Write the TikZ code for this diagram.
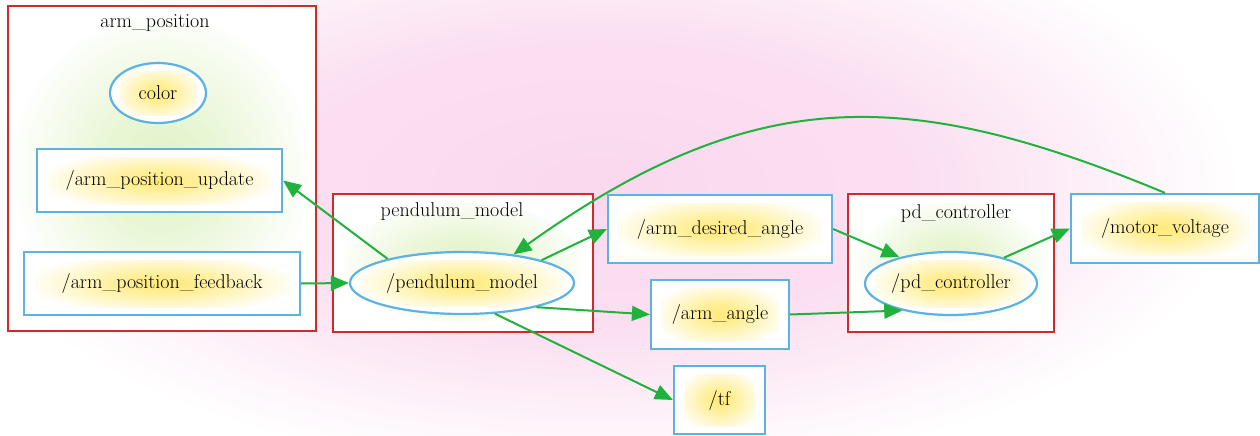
\documentclass[tikz,border=0pt]{standalone}
\usetikzlibrary{shapes.geometric,arrows.meta}

\definecolor{clusterred}{RGB}{208,42,42}
\definecolor{nodeblue}{RGB}{92,178,226}
\definecolor{edgegreen}{RGB}{32,178,60}
\definecolor{glowyellow}{RGB}{255,234,120}
\definecolor{glowgreen}{RGB}{224,243,198}
\definecolor{glowpink}{RGB}{250,216,238}

% soft radial glows, fading to white at the edge of the shaded path
\pgfdeclareradialshading{yglow}{\pgfpoint{0bp}{0bp}}{color(0bp)=(glowyellow); color(8bp)=(glowyellow!75!white); color(25bp)=(white); color(50bp)=(white)}
\pgfdeclareradialshading{gglow}{\pgfpoint{0bp}{0bp}}{color(0bp)=(glowgreen); color(10bp)=(glowgreen!70!white); color(25bp)=(white); color(50bp)=(white)}
\pgfdeclareradialshading{pglow}{\pgfpoint{0bp}{0bp}}{color(0bp)=(glowpink); color(13bp)=(glowpink!80!white); color(25bp)=(white); color(50bp)=(white)}

\tikzset{
  glowing/.style={path picture={\shade[shading=yglow]
      ([xshift=10pt,yshift=8pt]path picture bounding box.south west) rectangle
      ([xshift=-10pt,yshift=-8pt]path picture bounding box.north east);}},
  topicbox/.style={rectangle, draw=nodeblue, line width=2.2pt, fill=white, inner sep=0pt, glowing},
  nodeoval/.style={ellipse, draw=nodeblue, line width=2.2pt, fill=white, inner sep=0pt, glowing},
  cluster/.style={rectangle, draw=clusterred, line width=2.4pt, fill=white, inner sep=0pt},
  clusterglow/.style n args={4}{path picture={\shade[shading=gglow, xshift=#1, yshift=#2]
      (path picture bounding box.center) ellipse [x radius=#3, y radius=#4];}},
  edge/.style={draw=edgegreen, line width=2pt, -{Triangle[length=18pt,width=15pt]}},
}

\begin{document}
\begin{tikzpicture}[x=1pt, y=-1pt, font=\fontsize{20}{24}\selectfont]
\useasboundingbox (0,0) rectangle (1260,436);
\fill[white] (0,0) rectangle (1260,436);
\shade[shading=pglow] (600,185) ellipse [x radius=640pt, y radius=290pt];

% clusters
\node[cluster, minimum width=308pt, minimum height=325pt,
      clusterglow={8pt}{-45pt}{150pt}{150pt}] (cArm) at (162,168.5) {};
\node[cluster, minimum width=260pt, minimum height=138pt,
      clusterglow={-3pt}{10pt}{120pt}{60pt}] (cPend) at (463,263) {};
\node[cluster, minimum width=206pt, minimum height=138pt,
      clusterglow={0pt}{8pt}{95pt}{60pt}] (cPd) at (951,263) {};
\node (lArm) at (155,23) {arm\_position};
\node (lPend) at (452,212) {pendulum\_model};
\node (lPd) at (956,214) {pd\_controller};

% nodes and topics
\node[nodeoval, minimum width=96pt, minimum height=60pt] (color) at (158,93) {color};
\node[topicbox, minimum width=245pt, minimum height=63pt] (apu) at (159.5,180.5) {/arm\_position\_update};
\node[topicbox, minimum width=276pt, minimum height=63pt] (apf) at (162,283.5) {/arm\_position\_feedback};
\node[nodeoval, minimum width=224pt, minimum height=62pt] (pm) at (462,283) {/pendulum\_model};
\node[topicbox, minimum width=224pt, minimum height=68pt] (ada) at (720,229) {/arm\_desired\_angle};
\node[topicbox, minimum width=138pt, minimum height=69pt] (aa) at (720,314.5) {/arm\_angle};
\node[topicbox, minimum width=91pt, minimum height=68pt] (tf) at (719.5,400) {/tf};
\node[nodeoval, minimum width=172pt, minimum height=63pt] (pdc) at (951,283.5) {/pd\_controller};
\node[topicbox, minimum width=188pt, minimum height=69pt] (mv) at (1165,228.5) {/motor\_voltage};

% connections
\draw[edge] (pm.162) -- (apu.east);
\draw[edge] (apf.east) -- (pm.west);
\draw[edge] (pm.16) -- (ada.west);
\draw[edge] (pm.-18) -- (aa.west);
\draw[edge] (pm.-43) -- (tf.west);
\draw[edge] (ada.east) -- (pdc.153);
\draw[edge] (aa.east) -- (pdc.209);
\draw[edge] (pdc.26) -- (mv.west);
\draw[edge] (mv.north) .. controls (910,87) and (756,81) .. (pm.29);
\end{tikzpicture}
\end{document}
